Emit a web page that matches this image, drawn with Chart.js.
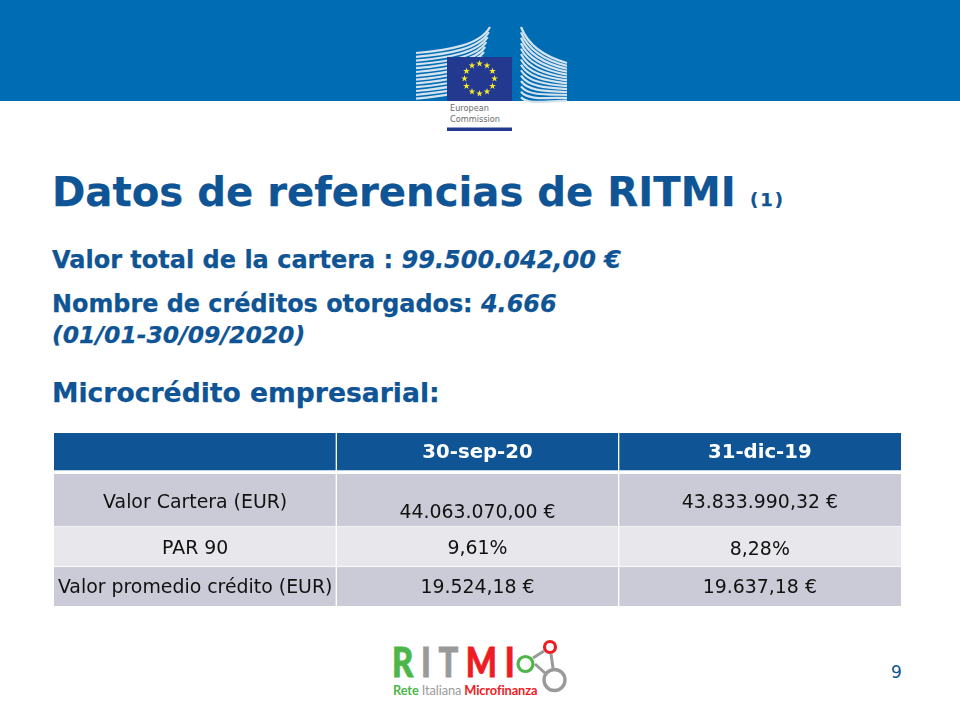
<!DOCTYPE html>
<html>
<head>
<meta charset="utf-8">
<title>Datos de referencias de RITMI</title>
<script src="https://cdn.jsdelivr.net/npm/chart.js@4"></script>
<style>
  html, body { margin: 0; padding: 0; background: #fff; }
  #slide { position: relative; width: 960px; height: 720px; overflow: hidden; font-family: "DejaVu Sans", sans-serif; color: #0F5494; }
  #slide div { position: absolute; white-space: nowrap; font-weight: bold; line-height: 1; }
  #banner { left: 0; top: 0; width: 960px; height: 101px; background: #006CB3; }
  #art { position: absolute; left: 0; top: 0; }
  #tableWrap { position: absolute; left: 54px; top: 433px; width: 847px; height: 173px; }
  #slide .plain { font-weight: normal; }
  #slide .heavy { -webkit-text-stroke: .25px #0F5494; }
</style>
</head>
<body>
<div id="slide">
  <div id="banner"></div>
  <svg id="art" width="960" height="720" xmlns="http://www.w3.org/2000/svg"></svg>
  <div class="plain" style="left:450px;top:104px;font-size:8.2px;color:#6b6b6b;">European</div>
  <div class="plain" style="left:450px;top:115px;font-size:8.2px;color:#6b6b6b;">Commission</div>

  <div class="heavy" style="left:52px;top:172px;font-size:40.2px;">Datos de referencias de RITMI</div>
  <div class="heavy" style="left:750px;top:191px;font-size:18px;letter-spacing:2px;">(1)</div>
  <div class="heavy" style="left:52px;top:248px;font-size:24px;">Valor total de la cartera : <i>99.500.042,00 €</i></div>
  <div class="heavy" style="left:52px;top:293px;font-size:23.9px;">Nombre de créditos otorgados: <i>4.666</i></div>
  <div class="heavy" style="left:52px;top:324px;font-size:23.5px;"><i>(01/01-30/09/2020)</i></div>
  <div class="heavy" style="left:52px;top:380px;font-size:26.6px;">Microcrédito empresarial:</div>

  <div id="tableWrap"><canvas id="tableChart" width="847" height="173"></canvas></div>

  <div style="left:392px;top:641px;font-family:Lato;font-weight:900;font-size:41px;letter-spacing:9.5px;color:#4CB748;-webkit-text-stroke:.8px;transform:scaleX(.8);transform-origin:left top;">R<span style="color:#9A9A9A">IT</span><span style="color:#ED1C24">MI</span></div>
  <div style="left:393px;top:684px;font-family:Lato;font-size:12.8px;letter-spacing:-.1px;color:#4CB748;">Rete <span style="color:#9A9A9A;font-weight:normal">Italiana</span> <span style="color:#ED1C24">Microfinanza</span></div>
  <div class="plain" style="left:891px;top:664px;font-size:17px;">9</div>
</div>

<script>
// table contents
const columns = ['', '30-sep-20', '31-dic-19'];
const rowLabels = ['Valor Cartera (EUR)', 'PAR 90', 'Valor promedio crédito (EUR)'];
const sep20Values = ['44.063.070,00 €', '9,61%', '19.524,18 €'];
const dic19Values = ['43.833.990,32 €', '8,28%', '19.637,18 €'];
// row heights, top to bottom: header, spacer, three body rows
const rowHeights = [38, 3, 53, 40, 39];

const HEADER = '#0F5494';
const DARK = '#CBCBD8';
const LIGHT = '#E7E7EC';

function rowDataset(height, color) {
  return {
    data: columns.map(() => height),
    backgroundColor: color,
    borderColor: '#ffffff',
    borderSkipped: false,
    borderWidth: ctx => ({
      left: ctx.dataIndex === 0 ? 0 : 1,
      right: ctx.dataIndex === columns.length - 1 ? 0 : 1,
      top: 0,
      bottom: color === 'transparent' || ctx.datasetIndex === rowHeights.length - 1 ? 0 : 1
    })
  };
}

// writes the cell text in the middle of each bar
const cellText = {
  id: 'cellText',
  afterDatasetsDraw(chart) {
    const ctx = chart.ctx;
    const rows = [columns, null, ...rowLabels.map((label, i) => [label, sep20Values[i], dic19Values[i]])];
    rows.forEach((cells, r) => {
      if (!cells) return;
      const bars = chart.getDatasetMeta(r).data;
      cells.forEach((text, c) => {
        const bar = bars[c];
        const mid = (bar.y + bar.base) / 2;
        ctx.save();
        ctx.textAlign = 'center';
        ctx.textBaseline = 'middle';
        ctx.fillStyle = r === 0 ? '#ffffff' : '#111111';
        ctx.font = (r === 0 ? 'bold 19.7px' : '18.9px') + ' "DejaVu Sans", sans-serif';
        // cell text in the source slide is not quite centred; the first value sits low
        let nudge = 1;
        if (r === 2 && c === 1) nudge = 13;
        if (r === 2 && c !== 1) nudge = 3;
        if (r === 3) nudge = c === 2 ? 3 : 2;
        if (r === 4) nudge = 2;
        ctx.fillText(text, bar.x, mid + nudge);
        ctx.restore();
      });
    });
  }
};

new Chart(document.getElementById('tableChart').getContext('2d'), {
  type: 'bar',
  data: {
    labels: columns,
    datasets: [
      rowDataset(rowHeights[0], HEADER),
      rowDataset(rowHeights[1], 'transparent'),
      rowDataset(rowHeights[2], DARK),
      rowDataset(rowHeights[3], LIGHT),
      rowDataset(rowHeights[4], DARK)
    ]
  },
  options: {
    responsive: false,
    animation: false,
    layout: { padding: 0 },
    plugins: { legend: { display: false }, tooltip: { enabled: false } },
    datasets: { bar: { barPercentage: 1, categoryPercentage: 1 } },
    scales: {
      x: { display: false, stacked: true },
      y: { display: false, stacked: true, reverse: true, min: 0, max: rowHeights.reduce((a, b) => a + b, 0) }
    }
  },
  plugins: [cellText]
});

// slide artwork: building, flag, logo
const NS = 'http://www.w3.org/2000/svg';
const art = document.getElementById('art');
function add(tag, attrs) {
  const el = document.createElementNS(NS, tag);
  Object.keys(attrs).forEach(k => el.setAttribute(k, attrs[k]));
  art.appendChild(el);
  return el;
}

for (let i = 0; i < 13; i++) {
  const y = 53 + i * 3.8;
  add('path', { d: `M416 ${y} C450 ${y - 3} ${480 - i} ${y - 8} ${490 - i * 1.2} ${27 + i * 5}`, fill: 'none', stroke: '#d5e3ef', 'stroke-width': 2.2 });
}
for (let i = 0; i < 14; i++) {
  add('path', { d: `M521 ${27 + i * 5.4} C528 ${45 + i * 4.6} 545 ${57 + i * 3.4} 567 ${63 + i * 2.9}`, fill: 'none', stroke: '#d5e3ef', 'stroke-width': 2.2 });
}
add('rect', { x: 447, y: 57, width: 65, height: 44, fill: '#22398F' });
add('rect', { x: 447, y: 127.5, width: 65, height: 3.5, fill: '#22398F' });
for (let i = 0; i < 12; i++) {
  const a = i * Math.PI / 6;
  const cx = 479.5 + Math.sin(a) * 15, cy = 78.5 - Math.cos(a) * 15;
  let pts = '';
  for (let k = 0; k < 10; k++) {
    const r = k % 2 ? 1.4 : 3.6, t = k * Math.PI / 5;
    pts += (cx + Math.sin(t) * r).toFixed(1) + ',' + (cy - Math.cos(t) * r).toFixed(1) + ' ';
  }
  add('polygon', { points: pts, fill: '#F7E82A' });
}

add('line', { x1: 533, y1: 658, x2: 544, y2: 651, stroke: '#9A9A9A', 'stroke-width': 3 });
add('line', { x1: 535, y1: 664, x2: 545, y2: 673, stroke: '#9A9A9A', 'stroke-width': 3 });
add('line', { x1: 551, y1: 654, x2: 553, y2: 668, stroke: '#9A9A9A', 'stroke-width': 3 });
add('circle', { cx: 525.5, cy: 664, r: 7.5, fill: '#fff', stroke: '#4CB748', 'stroke-width': 3.2 });
add('circle', { cx: 550, cy: 647, r: 5.5, fill: '#fff', stroke: '#ED1C24', 'stroke-width': 3.2 });
add('circle', { cx: 554.5, cy: 680, r: 10.5, fill: '#fff', stroke: '#9A9A9A', 'stroke-width': 3.4 });
</script>
</body>
</html>
